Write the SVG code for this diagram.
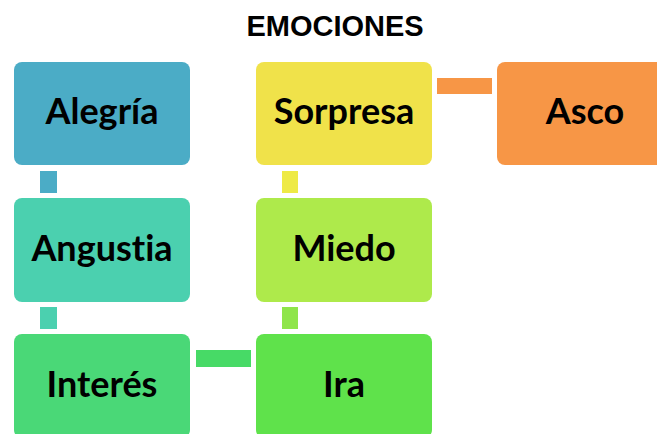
<svg xmlns="http://www.w3.org/2000/svg" width="657" height="434" viewBox="0 0 657 434">
<style>
.t{font-family:"Liberation Sans",Arial,sans-serif;font-weight:bold;font-size:29px;fill:#000;text-anchor:middle}
.l{font-family:Lato,"Open Sans",sans-serif;font-weight:bold;font-size:36px;fill:#000;text-anchor:middle;font-variant-ligatures:none;font-feature-settings:"liga" 0,"dlig" 0}
.b{rx:8;ry:8}
</style>
<rect width="657" height="434" fill="#fff"/>
<text class="t" x="335" y="36">EMOCIONES</text>
<g id="connectors">
<rect x="40" y="171" width="17" height="22" fill="#4BACC6"/>
<rect x="40" y="307" width="17" height="22" fill="#4BD0AF"/>
<rect x="196" y="350" width="55" height="17" fill="#47DA66"/>
<rect x="282" y="171" width="16" height="22" fill="#EEEA45"/>
<rect x="282" y="307" width="16" height="22" fill="#8FE54A"/>
<rect x="437" y="78" width="55" height="16" fill="#F79646"/>
</g>
<g id="alegria"><rect class="b" x="14" y="62" width="176" height="103" fill="#4BACC6"/><text class="l" x="102" y="124">Alegría</text></g>
<g id="angustia"><rect class="b" x="14" y="198" width="176" height="104" fill="#4BD0AF"/><text class="l" x="102" y="261">Angustia</text></g>
<g id="interes"><rect class="b" x="14" y="334" width="176" height="104" fill="#4AD877"/><text class="l" x="102" y="397">Interés</text></g>
<g id="sorpresa"><rect class="b" x="256" y="62" width="176" height="103" fill="#F0E24A"/><text class="l" x="344" y="124">Sorpresa</text></g>
<g id="miedo"><rect class="b" x="256" y="198" width="176" height="104" fill="#AEEA4B"/><text class="l" x="344" y="261">Miedo</text></g>
<g id="ira"><rect class="b" x="256" y="334" width="176" height="104" fill="#5FE24B"/><text class="l" x="344" y="397">Ira</text></g>
<g id="asco"><rect class="b" x="497" y="62" width="176" height="103" fill="#F79646"/><text class="l" x="585" y="124">Asco</text></g>
</svg>
